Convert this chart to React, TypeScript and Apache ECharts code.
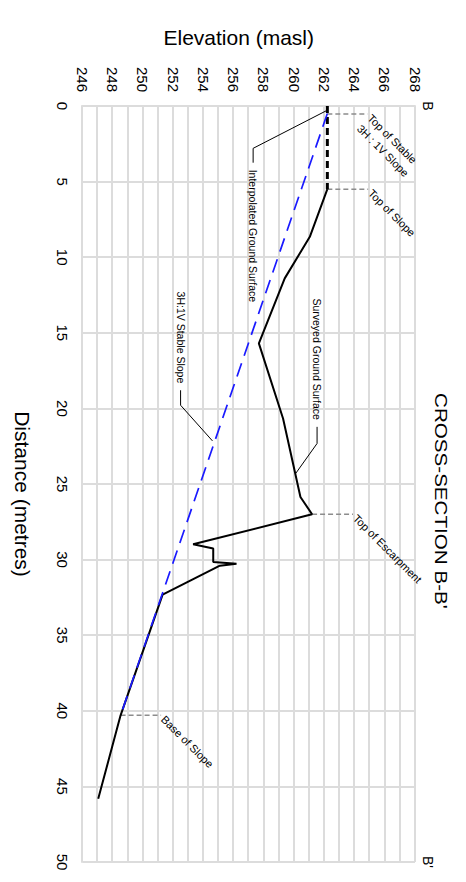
import React, { useEffect, useRef } from "react";
import * as echarts from "echarts";

// ---- data (distance in metres, elevation in masl) ----
const surveyedDistance = [5.5, 8.65, 11.4, 15.7, 20.67, 25.86, 27.0, 28.99, 29.27, 30.16, 30.27, 30.4, 32.32, 40.3, 45.82];
const surveyedElevation = [262.2, 261.04, 259.38, 257.67, 259.27, 260.42, 261.19, 253.32, 254.65, 254.65, 256.19, 255.09, 251.3, 248.52, 247.04];

const interpolatedDistance = [0, 5.5];
const interpolatedElevation = [262.2, 262.2];

const stableSlopeDistance = [0.5, 40.3];
const stableSlopeElevation = [262.2, 248.52];

// gray dashed markers with rotated labels
const markerLabels = ["Top of Stable\n3H : 1V Slope", "Top of Slope", "Top of Escarpment", "Base of Slope"];
const markerDistance = [0.53, 5.5, 27.0, 40.3];
const markerBaseElevation = [262.2, 262.2, 261.19, 248.52];
const markerTopElevation = [264.86, 264.9, 263.9, 251.2];

// callouts with thin black leaders (last point is next to the text)
const calloutLabels = ["Interpolated Ground Surface", "Surveyed Ground Surface", "3H:1V Stable Slope"];
const calloutAlign = ["left", "right", "right"];
const calloutDistance = [
  [0.31, 2.8, 3.75],
  [24.31, 22.32, 21.22],
  [22.15, 19.79, 18.8],
];
const calloutElevation = [
  [262.14, 257.29, 257.29],
  [260.1, 261.52, 261.52],
  [254.6, 252.49, 252.49],
];

const distanceMin = 0;
const distanceMax = 50;
const distanceStep = 5;
const elevationMin = 246;
const elevationMax = 268;
const elevationStep = 2;

const titleText = "CROSS-SECTION B-B'";
const xName = "Distance (metres)";
const yName = "Elevation (masl)";
const endLabels = ["B", "B'"];

const W = 882;
const H = 466;
const FONT = "'Liberation Sans', Arial, Helvetica, sans-serif";
const GRID = "#dcdcdc";

const zip = (a: number[], b: number[]) => a.map((v, i) => [v, b[i]]);

export default function App() {
  const ref = useRef<HTMLDivElement>(null);

  useEffect(() => {
    if (!ref.current) return;
    const chart = echarts.init(ref.current, null, { renderer: "svg", width: W, height: H });

    const series: any[] = [];
    markerDistance.forEach((d, i) => {
      series.push({
        type: "line",
        name: "marker" + i,
        data: [[d, markerBaseElevation[i]], [d, markerTopElevation[i]]],
        symbol: "none",
        silent: true,
        lineStyle: { color: "#8c8c8c", width: 1.5, type: [5, 3] },
        z: 2,
      });
    });
    calloutDistance.forEach((ds, i) => {
      series.push({
        type: "line",
        name: "callout" + i,
        data: zip(ds, calloutElevation[i]),
        symbol: "none",
        silent: true,
        lineStyle: { color: "#000", width: 1 },
        z: 2,
      });
    });
    series.push(
      {
        type: "line",
        name: "Surveyed Ground Surface",
        data: zip(surveyedDistance, surveyedElevation),
        symbol: "none",
        lineStyle: { color: "#000", width: 2 },
        z: 3,
      },
      {
        type: "line",
        name: "Interpolated Ground Surface",
        data: zip(interpolatedDistance, interpolatedElevation),
        symbol: "none",
        lineStyle: { color: "#000", width: 3, type: [7, 4] },
        z: 3,
      },
      {
        type: "line",
        name: "3H:1V Stable Slope",
        data: zip(stableSlopeDistance, stableSlopeElevation),
        symbol: "none",
        lineStyle: { color: "#1a1aff", width: 1.7, type: [14, 8] },
        z: 4,
      }
    );

    chart.setOption({
      animation: false,
      backgroundColor: "#fff",
      textStyle: { fontFamily: FONT },
      grid: { left: 106, right: 20, top: 51, bottom: 82.5 },
      xAxis: {
        type: "value",
        min: distanceMin,
        max: distanceMax,
        interval: distanceStep,
        name: xName,
        nameLocation: "middle",
        nameGap: 50,
        nameTextStyle: { fontSize: 21, color: "#000", fontFamily: FONT, padding: [0, 0, 0, 20] },
        axisLine: { show: true, lineStyle: { color: GRID, width: 2 } },
        axisTick: { show: false },
        axisLabel: { fontSize: 15, color: "#000", margin: 13, fontFamily: FONT },
        splitLine: { show: true, lineStyle: { color: GRID, width: 2 } },
      },
      yAxis: {
        type: "value",
        min: elevationMin,
        max: elevationMax,
        interval: elevationStep,
        name: yName,
        nameLocation: "middle",
        nameRotate: 90,
        nameGap: 58,
        nameTextStyle: { fontSize: 21, color: "#000", fontFamily: FONT, padding: [0, 20, 0, 0] },
        axisLine: { show: true, lineStyle: { color: GRID, width: 2 } },
        axisTick: { show: false },
        minorTick: { show: false, splitNumber: 2 },
        minorSplitLine: { show: true, lineStyle: { color: GRID, width: 2 } },
        axisLabel: { fontSize: 15, color: "#000", margin: 14, fontFamily: FONT },
        splitLine: { show: true, lineStyle: { color: GRID, width: 2 } },
      },
      series,
    });

    const px = (d: number, e: number) => chart.convertToPixel({ gridIndex: 0 } as any, [d, e]) as number[];

    const graphic: any[] = [];
    // title
    graphic.push({
      type: "text",
      x: 393,
      y: 25,
      scaleX: 1.25,
      silent: true,
      style: { text: titleText, fontSize: 16.5, fontFamily: FONT, fill: "#000", align: "left", verticalAlign: "middle" },
    });
    // B and B'
    [distanceMin, distanceMax].forEach((d, i) => {
      const p = px(d, elevationMax);
      graphic.push({
        type: "text",
        x: p[0],
        y: p[1] - 12.5,
        silent: true,
        style: { text: endLabels[i], fontSize: 14, fontFamily: FONT, fill: "#000", align: "center", verticalAlign: "middle" },
      });
    });
    // rotated marker labels
    markerLabels.forEach((t, i) => {
      const p = px(markerDistance[i], markerTopElevation[i]);
      const lines = t.split("\n").length;
      graphic.push({
        type: "text",
        x: p[0],
        y: p[1],
        rotation: Math.PI / 4,
        silent: true,
        style: {
          text: t,
          x: 3,
          y: ((lines - 1) * 15) / 2,
          fontSize: 11,
          lineHeight: 15,
          fontFamily: FONT,
          fill: "#000",
          align: "left",
          verticalAlign: "middle",
        },
      });
    });
    // callout labels
    calloutLabels.forEach((t, i) => {
      const ds = calloutDistance[i];
      const es = calloutElevation[i];
      const p = px(ds[ds.length - 1], es[es.length - 1]);
      const left = calloutAlign[i] === "left";
      graphic.push({
        type: "text",
        x: p[0] + (left ? 7 : -7),
        y: p[1],
        silent: true,
        style: { text: t, fontSize: 10.5, fontFamily: FONT, fill: "#000", align: calloutAlign[i], verticalAlign: "middle" },
      });
    });
    chart.setOption({ graphic });

    return () => chart.dispose();
  }, []);

  return (
    <div style={{ position: "absolute", left: 0, top: 0, width: H, height: W, overflow: "hidden", background: "#fff" }}>
      <div
        ref={ref}
        style={{
          position: "absolute",
          left: 0,
          top: 0,
          width: W,
          height: H,
          transformOrigin: "0 0",
          transform: `translate(${H}px, 0px) rotate(90deg)`,
        }}
      />
    </div>
  );
}
